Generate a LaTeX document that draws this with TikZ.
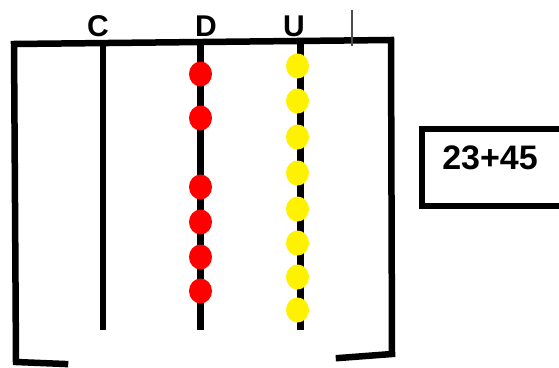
\documentclass[tikz,border=0pt]{standalone}
\usepackage{fontspec}
\setmainfont{Liberation Sans}
\usetikzlibrary{shapes.geometric}
\begin{document}
\begin{tikzpicture}[x=1pt,y=-1pt,
  frame/.style={line width=6.5pt,line cap=rect,line join=miter},
  rod/.style={line width=6.5pt},
  lbl/.style={font=\fontsize{30}{30}\selectfont\bfseries,inner sep=0pt},
  bead/.style={ellipse,minimum width=23pt,minimum height=25pt,inner sep=0pt},
  redbead/.style={bead,fill=red},
  yelbead/.style={bead,fill=yellow}]
\useasboundingbox (0,0) rectangle (559,367);
% frame
\coordinate (tl) at (14,44);
\coordinate (tr) at (391,40);
\coordinate (bl) at (16,362);
\coordinate (blend) at (65,364);
\coordinate (br) at (392,354);
\coordinate (brend) at (339,358);
\draw[frame] (blend) -- (bl) -- (tl) -- (tr) -- (br) -- (brend);
% rods
\coordinate (ct) at (103,43); \coordinate (cb) at (103,330);
\coordinate (dt) at (200.5,42); \coordinate (db) at (200.5,330);
\coordinate (ut) at (300.5,41); \coordinate (ub) at (300.5,330);
\draw[rod] (ct) -- (cb);
\draw[rod] (dt) -- (db);
\draw[rod] (ut) -- (ub);
% labels
\node[lbl] (lc) at (98,26) {C};
\node[lbl] (ld) at (206,26) {D};
\node[lbl] (lu) at (294,26) {U};
% thin tick
\coordinate (tk1) at (352,10); \coordinate (tk2) at (352,46);
\draw[line width=1.3pt,black!70] (tk1) -- (tk2);
% red beads
\foreach \y [count=\i] in {74,118,187,222,257,291}
  \node[redbead] (r\i) at (200.5,\y) {};
% yellow beads
\foreach \y [count=\i] in {66,101,137,173,209,243,277,310}
  \node[yelbead] (y\i) at (297.5,\y) {};
% box
\coordinate (b1) at (565,129); \coordinate (b2) at (422,129);
\coordinate (b3) at (422,206); \coordinate (b4) at (565,206);
\draw[line width=5.5pt,line join=miter] (b1) -- (b2) -- (b3) -- (b4);
\node[font=\fontsize{34}{34}\selectfont\bfseries,inner sep=0pt] (sum) at (490,158) {23+45};
\end{tikzpicture}
\end{document}
